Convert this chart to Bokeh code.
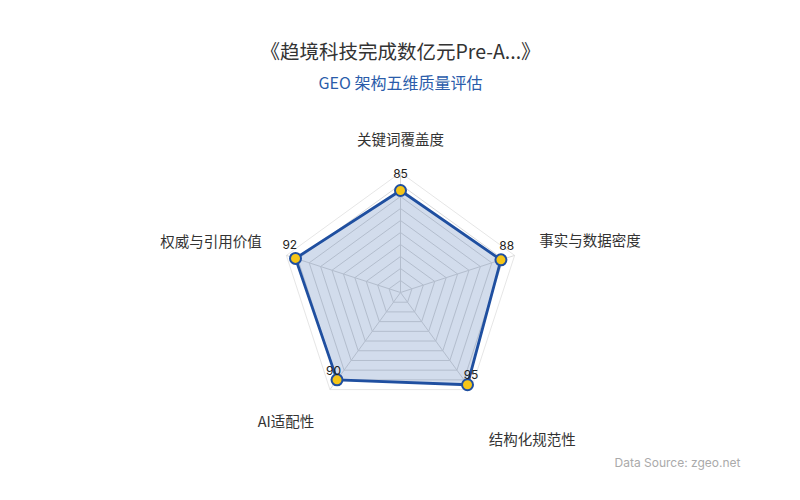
import numpy as np
from bokeh.plotting import figure
from bokeh.models import ColumnDataSource, Range1d
from bokeh.core.properties import value
from bokeh.embed import file_html
from bokeh.resources import INLINE

# ---- data ----
title_text = "《趋境科技完成数亿元Pre-A...》"
subtitle_text = "GEO 架构五维质量评估"
source_text = "Data Source: zgeo.net"
axes_names = ["关键词覆盖度", "事实与数据密度", "结构化规范性", "AI适配性", "权威与引用价值"]
scores = [85, 88, 95, 90, 92]
max_value = 100
split_number = 10

# ---- layout / style ----
W, H = 784, 484
R = 120.0                      # pixel radius of max value
scale = R / max_value
CJK = value("Noto Sans CJK SC")
blue = "#1f4fa0"

p = figure(width=W, height=H, output_backend="svg", toolbar_location=None,
           x_range=Range1d(-400, 384), y_range=Range1d(-192, 292),
           x_axis_type=None, y_axis_type=None, min_border=0)
p.grid.visible = False
p.outline_line_color = None
p.background_fill_color = "white"

n = len(axes_names)
angles = np.pi / 2 - np.arange(n) * 2 * np.pi / n

# grid rings
for k in range(1, split_number + 1):
    r = R * k / split_number
    xs = list(r * np.cos(angles)) + [r * np.cos(angles[0])]
    ys = list(r * np.sin(angles)) + [r * np.sin(angles[0])]
    p.line(xs, ys, line_color="#d9d9d9" if k < split_number else "#e6e6e6", line_width=1)
# spokes
for a in angles:
    p.line([0, R * np.cos(a)], [0, R * np.sin(a)], line_color="#d9d9d9", line_width=1)

# data polygon
sv = np.array(scores, dtype=float) * scale
px = sv * np.cos(angles)
py = sv * np.sin(angles)
src = ColumnDataSource(dict(x=px, y=py, lab=[str(s) for s in scores],
                            xo=6 * np.cos(angles), yo=-(13 + 4 * np.sin(angles))))
p.patch(list(px), list(py), fill_color=blue, fill_alpha=0.2, line_color=None)
p.line(list(px) + [px[0]], list(py) + [py[0]], line_color=blue, line_width=2.8,
       line_join="round")
p.scatter("x", "y", source=src, size=11, fill_color="#f5c518", line_color=blue, line_width=2)
p.text("x", "y", text="lab", source=src, x_offset="xo", y_offset="yo",
       text_align="center", text_baseline="middle", text_font=value("Inter"),
       text_font_size="12px", text_color="#222222")

# axis names
lr = 150.0
aligns = ["center", "left", "left", "right", "right"]
nx = [0, -4, 0, 2, 4]
ny = [-4, -7, 25, 7, -6]
lsrc = ColumnDataSource(dict(x=lr * np.cos(angles), y=lr * np.sin(angles), t=axes_names,
                             al=aligns, xo=nx, yo=ny))
p.text("x", "y", text="t", source=lsrc, x_offset="xo", y_offset="yo", text_align="al",
       text_baseline="middle", text_font=CJK, text_font_size="14.5px", text_color="#333333")

# titles
p.text([0], [242], text=[title_text], text_align="center", text_baseline="middle",
       text_font=CJK, text_font_size="19.5px", text_color="#333333")
p.text([0], [211], text=[subtitle_text], text_align="center", text_baseline="middle",
       text_font=CJK, text_font_size="16px", text_color="#2a5caa")
p.text([340], [-170], text=[source_text], text_align="right", text_baseline="middle",
       text_font=value("Inter"), text_font_size="12px", text_color="#aaaaaa")

open("out.html", "w").write(file_html(p, INLINE))
